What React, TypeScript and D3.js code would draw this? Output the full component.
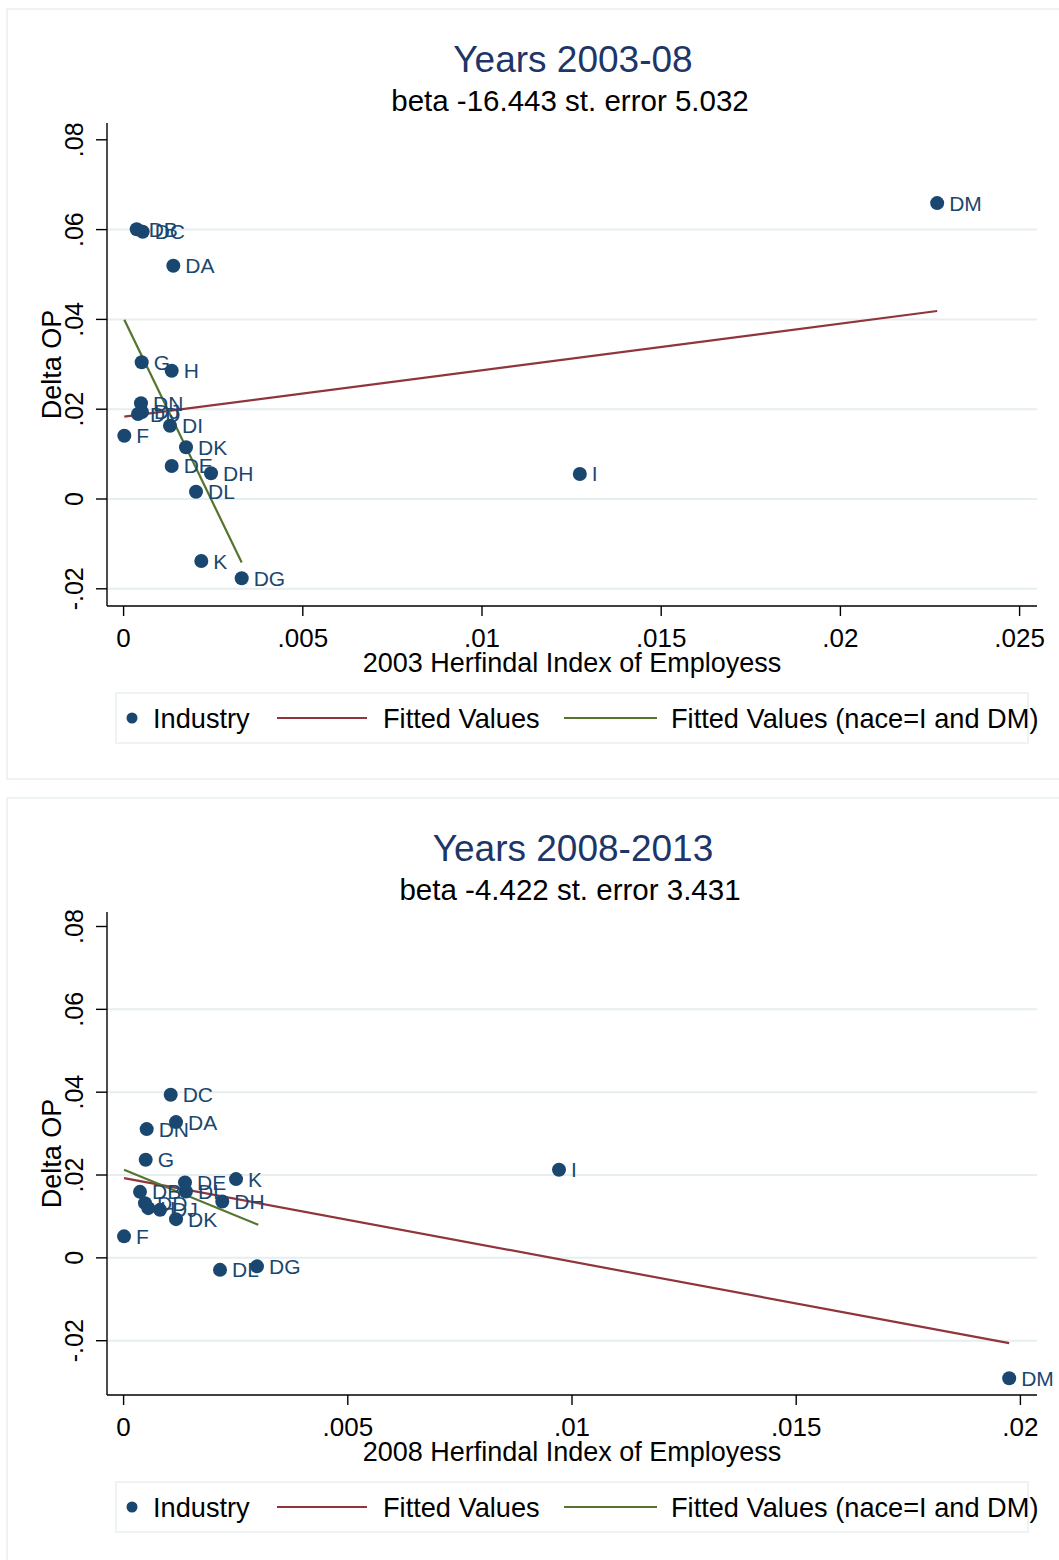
import React from "react";
import * as d3 from "d3";

// ---------- DATA ----------
const industriesTop = ["DM", "I", "DB", "DC", "DA", "G", "H", "DN", "DD", "DJ", "F", "DI", "DK", "DE", "DH", "DL", "K", "DG"];
const herfTop = [0.0227, 0.01273, 0.000366, 0.000533, 0.001387, 0.000505, 0.001342, 0.000485, 0.000402, 0.000513, 0.00002, 0.001295, 0.001741, 0.001342, 0.002439, 0.00202, 0.002168, 0.003295];
const deltaTop = [0.0659, 0.00557, 0.06007, 0.05953, 0.05196, 0.03045, 0.02858, 0.02131, 0.01893, 0.01938, 0.0141, 0.01633, 0.01151, 0.00735, 0.00572, 0.00163, -0.01381, -0.01766];
const fitAllTopX = [0.00002, 0.0227];
const fitAllTopY = [0.01833, 0.04187];
const fitSubTopX = [0.00002, 0.003295];
const fitSubTopY = [0.0399, -0.01412];

const industriesBot = ["DM", "I", "DC", "DA", "DN", "G", "DE", "K", "DB", "DI", "DH", "DD", "H", "DJ", "DK", "F", "DL", "DG"];
const herfBot = [0.01975, 0.00971, 0.00105, 0.001169, 0.000515, 0.000493, 0.001369, 0.002507, 0.000366, 0.00139, 0.002201, 0.000477, 0.000551, 0.000812, 0.001169, 0.00001, 0.00215, 0.002975];
const deltaBot = [-0.02906, 0.02126, 0.03937, 0.03278, 0.03109, 0.02367, 0.01819, 0.01901, 0.01594, 0.01601, 0.0136, 0.01321, 0.012, 0.01159, 0.00935, 0.00519, -0.0029, -0.00205];
const fitAllBotX = [0.00001, 0.01975];
const fitAllBotY = [0.01925, -0.0206];
const fitSubBotX = [0.00001, 0.003004];
const fitSubBotY = [0.02126, 0.00797];

const xTicksTop = [0, 0.005, 0.01, 0.015, 0.02, 0.025];
const xTickLabelsTop = ["0", ".005", ".01", ".015", ".02", ".025"];
const xTicksBot = [0, 0.005, 0.01, 0.015, 0.02];
const xTickLabelsBot = ["0", ".005", ".01", ".015", ".02"];
const yTicks = [-0.02, 0, 0.02, 0.04, 0.06, 0.08];
const yTickLabels = ["-.02", "0", ".02", ".04", ".06", ".08"];
const gridTicks = [-0.02, 0, 0.02, 0.04, 0.06];

const titles = ["Years 2003-08", "Years 2008-2013"];
const subtitles = ["beta -16.443 st. error 5.032", "beta -4.422 st. error 3.431"];
const xTitles = ["2003 Herfindal Index of Employess", "2008 Herfindal Index of Employess"];
const legendLabels = ["Industry", "Fitted Values", "Fitted Values (nace=I and DM)"];

// ---------- STYLE ----------
const FONT = "'Liberation Sans', Arial, Helvetica, sans-serif";
const NAVY = "#1a476f";
const MAROON = "#90353b";
const GREEN = "#55752f";
const TITLE = "#1e3568";
const GRID = "#e6eef0";
const BORDER = "#e9efef";

type PanelProps = {
  offset: number;
  title: string;
  subtitle: string;
  xTitle: string;
  names: string[];
  xs: number[];
  ys: number[];
  xTicks: number[];
  xTickLabels: string[];
  xDomainMax: number;
  xRangeMax: number;
  yRange: [number, number];
  fitA: [number[], number[]];
  fitB: [number[], number[]];
};

function Panel(p: PanelProps) {
  const left = 107;
  const right = 1037;
  const top = 123;
  const bottom = 606;
  const x = d3.scaleLinear().domain([0, p.xDomainMax]).range([123.6, p.xRangeMax]);
  const y = d3.scaleLinear().domain([-0.02, 0.08]).range(p.yRange);
  const line = d3
    .line<[number, number]>()
    .x((d) => x(d[0]))
    .y((d) => y(d[1]));
  const fa = p.fitA[0].map((v, i) => [v, p.fitA[1][i]] as [number, number]);
  const fb = p.fitB[0].map((v, i) => [v, p.fitB[1][i]] as [number, number]);

  return (
    <g transform={`translate(0,${p.offset})`}>
      <rect x={7} y={9} width={1080} height={770} fill="#ffffff" stroke={BORDER} strokeWidth={1.5} />
      <text x={573} y={72} textAnchor="middle" fontSize={37} fill={TITLE} fontFamily={FONT}>
        {p.title}
      </text>
      <text x={570} y={111} textAnchor="middle" fontSize={29.5} fill="#000" fontFamily={FONT}>
        {p.subtitle}
      </text>
      {/* grid */}
      {gridTicks.map((t) => (
        <line key={"g" + t} x1={left} x2={right} y1={y(t)} y2={y(t)} stroke={GRID} strokeWidth={2} />
      ))}
      {/* fitted lines */}
      <path d={line(fa) || ""} fill="none" stroke={MAROON} strokeWidth={2.2} />
      <path d={line(fb) || ""} fill="none" stroke={GREEN} strokeWidth={2.2} />
      {/* points */}
      {p.names.map((n, i) => (
        <g key={"p" + i}>
          <circle cx={x(p.xs[i])} cy={y(p.ys[i])} r={7} fill={NAVY} />
          <text
            x={x(p.xs[i]) + 12}
            y={y(p.ys[i]) + 7.5}
            fontSize={21}
            fill={NAVY}
            fontFamily={FONT}
          >
            {n}
          </text>
        </g>
      ))}
      {/* axes */}
      <line x1={left} x2={left} y1={top} y2={bottom} stroke="#000" strokeWidth={1.4} />
      <line x1={left} x2={right} y1={bottom} y2={bottom} stroke="#000" strokeWidth={1.4} />
      {yTicks.map((t, i) => (
        <g key={"y" + t}>
          <line x1={96} x2={left} y1={y(t)} y2={y(t)} stroke="#000" strokeWidth={1.4} />
          <text
            transform={`translate(83,${y(t)}) rotate(-90)`}
            textAnchor="middle"
            fontSize={25}
            fill="#000"
            fontFamily={FONT}
          >
            {yTickLabels[i]}
          </text>
        </g>
      ))}
      <text
        transform={`translate(61,${(top + bottom) / 2}) rotate(-90)`}
        textAnchor="middle"
        fontSize={27}
        fill="#000"
        fontFamily={FONT}
      >
        Delta OP
      </text>
      {p.xTicks.map((t, i) => (
        <g key={"x" + t}>
          <line x1={x(t)} x2={x(t)} y1={bottom} y2={bottom + 10} stroke="#000" strokeWidth={1.4} />
          <text x={x(t)} y={647} textAnchor="middle" fontSize={26} fill="#000" fontFamily={FONT}>
            {p.xTickLabels[i]}
          </text>
        </g>
      ))}
      <text x={572} y={672} textAnchor="middle" fontSize={27} fill="#000" fontFamily={FONT}>
        {p.xTitle}
      </text>
      {/* legend */}
      <rect x={116} y={693} width={912} height={50} fill="#fff" stroke={BORDER} strokeWidth={1.5} />
      <circle cx={132} cy={718} r={5.5} fill={NAVY} />
      <text x={153} y={728} fontSize={27.2} fill="#000" fontFamily={FONT}>
        {legendLabels[0]}
      </text>
      <line x1={277} x2={367} y1={718} y2={718} stroke={MAROON} strokeWidth={2.2} />
      <text x={383} y={728} fontSize={27.2} fill="#000" fontFamily={FONT}>
        {legendLabels[1]}
      </text>
      <line x1={564} x2={657} y1={718} y2={718} stroke={GREEN} strokeWidth={2.2} />
      <text x={671} y={728} fontSize={27.2} fill="#000" fontFamily={FONT}>
        {legendLabels[2]}
      </text>
    </g>
  );
}

export default function App() {
  return (
    <svg
      width={1059}
      height={1560}
      style={{ position: "absolute", left: 0, top: 0, display: "block", background: "#fff" }}
    >
      <rect x={0} y={0} width={1059} height={1560} fill="#fff" />
      <Panel
        offset={0}
        title={titles[0]}
        subtitle={subtitles[0]}
        xTitle={xTitles[0]}
        names={industriesTop}
        xs={herfTop}
        ys={deltaTop}
        xTicks={xTicksTop}
        xTickLabels={xTickLabelsTop}
        xDomainMax={0.025}
        xRangeMax={1019.6}
        yRange={[588.8, 139.8]}
        fitA={[fitAllTopX, fitAllTopY]}
        fitB={[fitSubTopX, fitSubTopY]}
      />
      <Panel
        offset={789}
        title={titles[1]}
        subtitle={subtitles[1]}
        xTitle={xTitles[1]}
        names={industriesBot}
        xs={herfBot}
        ys={deltaBot}
        xTicks={xTicksBot}
        xTickLabels={xTickLabelsBot}
        xDomainMax={0.02}
        xRangeMax={1020.4}
        yRange={[551.7, 137.5]}
        fitA={[fitAllBotX, fitAllBotY]}
        fitB={[fitSubBotX, fitSubBotY]}
      />
    </svg>
  );
}
